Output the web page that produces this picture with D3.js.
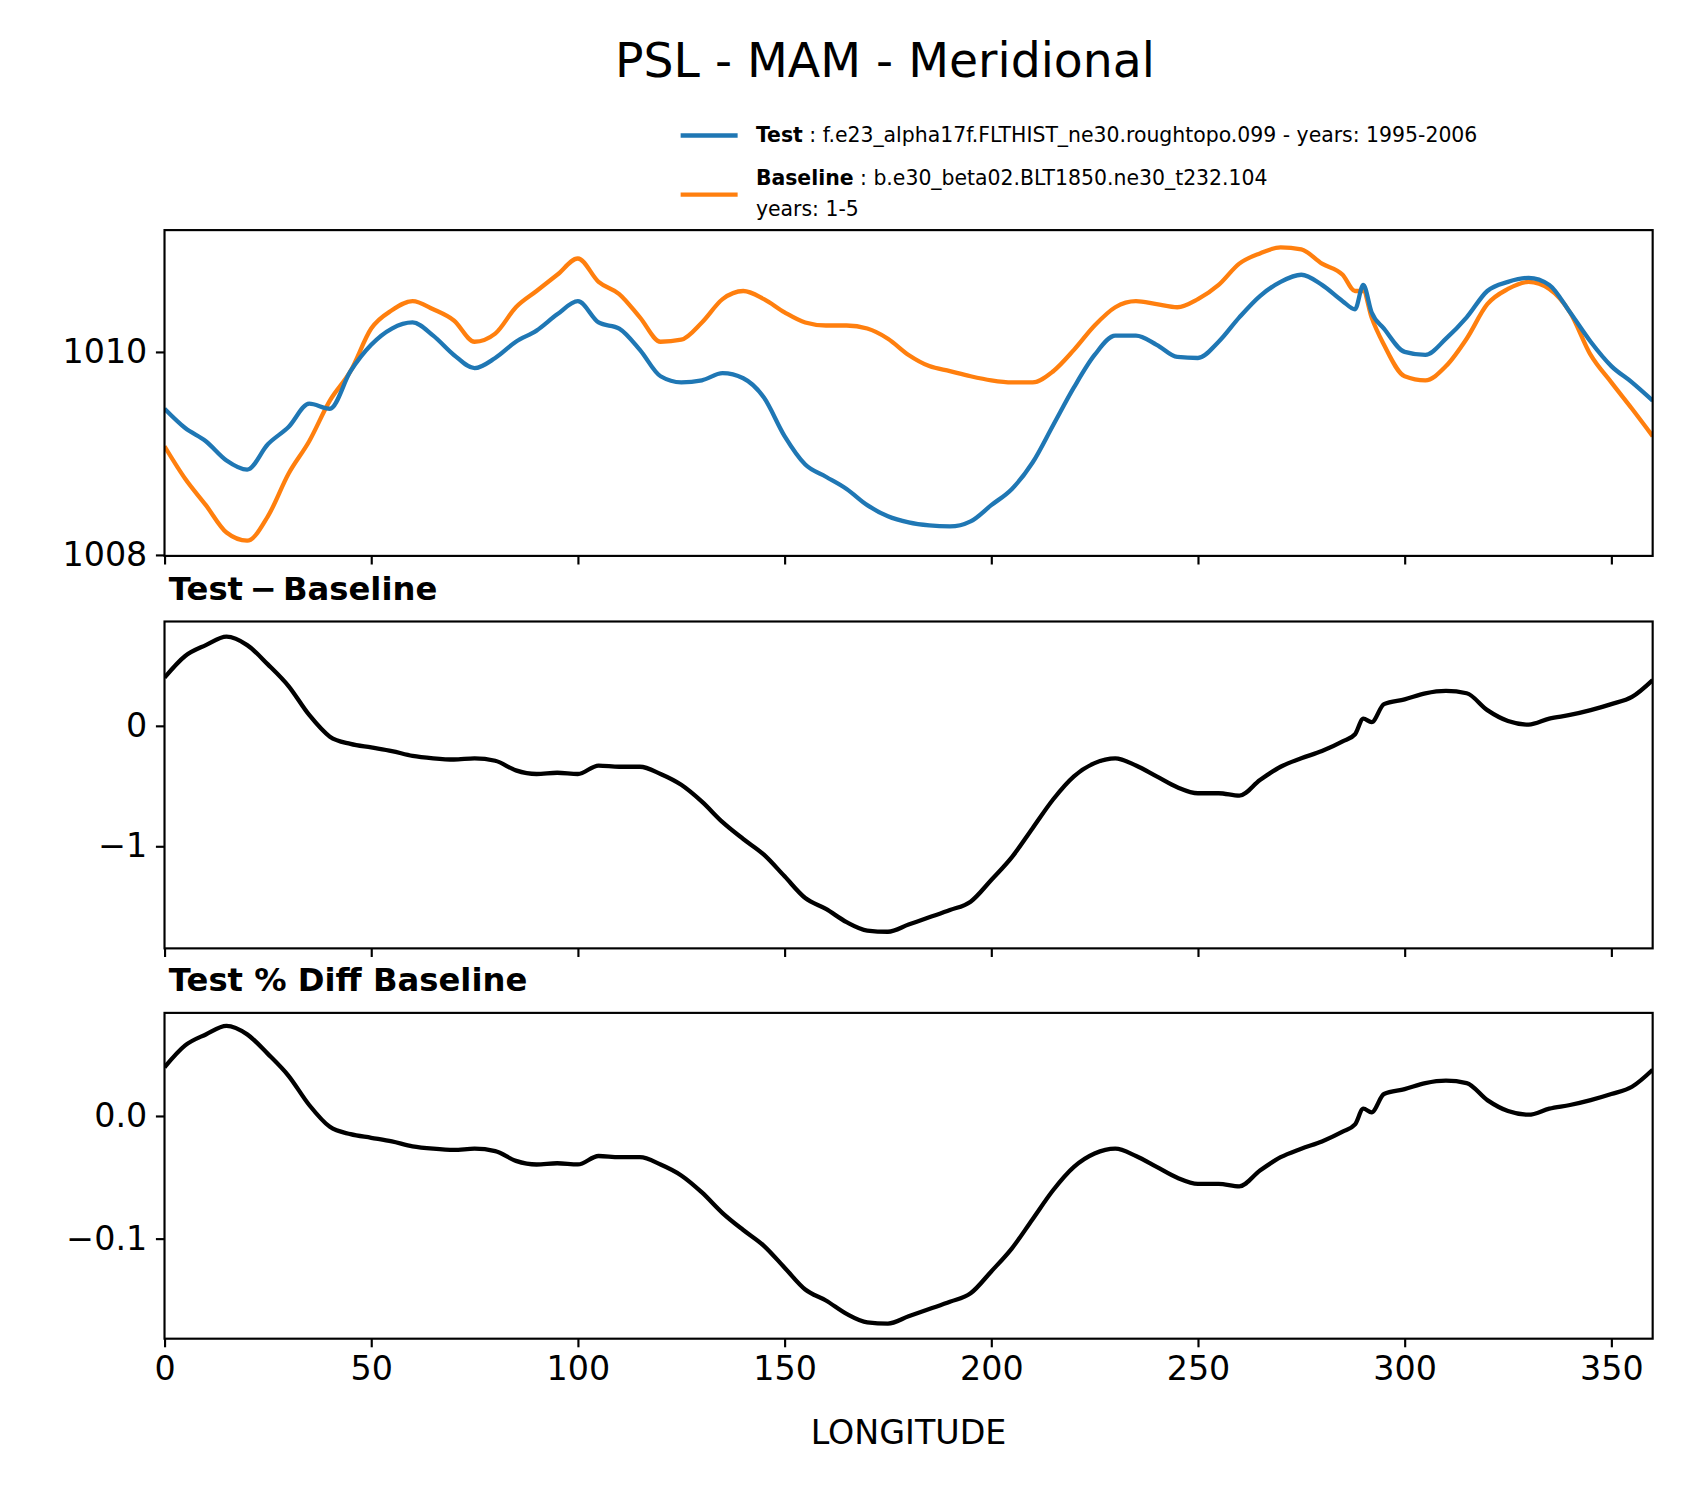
<!DOCTYPE html>
<html>
<head>
<meta charset="utf-8">
<script src="https://cdn.jsdelivr.net/npm/d3@7"></script>
<style>
  body { margin: 0; background: #fff; }
  text { font-family: "DejaVu Sans", sans-serif; }
</style>
</head>
<body>
<svg id="chart" width="1686" height="1496" viewBox="0 0 1568 1391.3"></svg>
<script>
// longitude sample points (degrees east)
const lon = [0,5,10,15,20,25,30,35,40,45,50,55,60,65,70,75,80,85,90,95,100,105,110,115,120,125,130,135,140,145,150,155,160,165,170,175,180,185,190,195,200,205,210,215,220,225,230,235,240,245,250,255,260,265,270,275,280,285,288,290,292,295,300,305,310,315,320,325,330,335,340,345,350,355,360];

// Test PSL (hPa)
const testPsl = [1009.44,1009.25,1009.12,1008.93,1008.84,1009.09,1009.26,1009.49,1009.44,1009.81,1010.07,1010.23,1010.29,1010.16,1009.97,1009.84,1009.94,1010.10,1010.21,1010.37,1010.50,1010.29,1010.23,1010.02,1009.76,1009.70,1009.72,1009.79,1009.74,1009.55,1009.17,1008.89,1008.77,1008.65,1008.49,1008.38,1008.32,1008.29,1008.28,1008.33,1008.49,1008.65,1008.91,1009.28,1009.65,1009.97,1010.16,1010.16,1010.07,1009.95,1009.94,1010.10,1010.34,1010.55,1010.69,1010.76,1010.66,1010.50,1010.42,1010.66,1010.39,1010.23,1010.00,1009.97,1010.13,1010.34,1010.60,1010.69,1010.73,1010.66,1010.39,1010.10,1009.86,1009.70,1009.52];

// Baseline PSL (hPa)
const basePsl = [1009.07,1008.75,1008.49,1008.22,1008.14,1008.38,1008.80,1009.12,1009.52,1009.81,1010.23,1010.41,1010.50,1010.42,1010.31,1010.10,1010.18,1010.44,1010.60,1010.76,1010.92,1010.69,1010.57,1010.34,1010.10,1010.12,1010.29,1010.52,1010.60,1010.52,1010.39,1010.29,1010.26,1010.26,1010.23,1010.13,1009.97,1009.86,1009.81,1009.76,1009.72,1009.70,1009.70,1009.81,1010.02,1010.26,1010.44,1010.50,1010.47,1010.44,1010.52,1010.66,1010.87,1010.97,1011.03,1011.01,1010.87,1010.76,1010.60,1010.60,1010.34,1010.07,1009.76,1009.72,1009.86,1010.13,1010.47,1010.62,1010.69,1010.62,1010.39,1009.97,1009.70,1009.44,1009.17];

// Test - Baseline (hPa)
const diffPsl = [0.40,0.58,0.67,0.74,0.67,0.51,0.33,0.09,-0.09,-0.15,-0.18,-0.21,-0.25,-0.27,-0.28,-0.27,-0.29,-0.37,-0.40,-0.39,-0.40,-0.33,-0.34,-0.34,-0.40,-0.49,-0.63,-0.80,-0.94,-1.07,-1.25,-1.43,-1.52,-1.63,-1.70,-1.71,-1.65,-1.59,-1.53,-1.46,-1.28,-1.09,-0.85,-0.61,-0.42,-0.31,-0.27,-0.33,-0.42,-0.51,-0.56,-0.56,-0.58,-0.45,-0.34,-0.27,-0.21,-0.13,-0.07,0.06,0.03,0.18,0.22,0.27,0.29,0.27,0.13,0.04,0.01,0.06,0.09,0.13,0.18,0.24,0.38];

// percent difference relative to baseline
const pctPsl = diffPsl.map((d, i) => d / basePsl[i] * 100);

const xTicks = [0, 50, 100, 150, 200, 250, 300, 350];

const svg = d3.select('#chart');
const left = 153, right = 1537;
const x = d3.scaleLinear().domain([0, 360]).range([left, right]);

svg.append('text').attr('x', 823).attr('y', 72).attr('text-anchor', 'middle')
  .style('font-size', '44px').text('PSL - MAM - Meridional');

const panels = [
  { top: 214, bottom: 517, domain: [1007.99, 1011.2], ticks: [1008, 1010], fmt: d3.format('d'),
    series: [{ v: basePsl, c: '#ff7f0e' }, { v: testPsl, c: '#1f77b4' }], xlabels: false },
  { top: 578, bottom: 882, domain: [-1.848, 0.866], ticks: [-1, 0], fmt: d => d < 0 ? '\u2212' + Math.abs(d) : d,
    series: [{ v: diffPsl, c: '#000' }], xlabels: false, title: 'Test\u2009\u2212\u2009Baseline' },
  { top: 942, bottom: 1245, domain: [-0.1816, 0.084], ticks: [-0.1, 0.0], fmt: d => d < 0 ? '\u2212' + Math.abs(d).toFixed(1) : d.toFixed(1),
    series: [{ v: pctPsl, c: '#000' }], xlabels: true, title: 'Test % Diff Baseline' }
];

panels.forEach(p => {
  const y = d3.scaleLinear().domain(p.domain).range([p.bottom, p.top]);
  const g = svg.append('g');
  g.append('clipPath').attr('id', 'clip' + p.top).append('rect')
    .attr('x', left).attr('y', p.top).attr('width', right - left).attr('height', p.bottom - p.top);

  const line = d3.line().x((d, i) => x(lon[i])).y(d => y(d)).curve(d3.curveMonotoneX);
  p.series.forEach(s => {
    g.append('path').datum(s.v).attr('d', line).attr('fill', 'none')
      .attr('stroke', s.c).attr('stroke-width', 4).attr('stroke-linejoin', 'round')
      .attr('clip-path', `url(#clip${p.top})`);
  });

  const xa = g.append('g').attr('transform', `translate(0,${p.bottom})`)
    .call(d3.axisBottom(x).tickValues(xTicks).tickSize(8).tickPadding(8)
      .tickFormat(p.xlabels ? d3.format('d') : ''));
  const ya = g.append('g').attr('transform', `translate(${left},0)`)
    .call(d3.axisLeft(y).tickValues(p.ticks).tickSize(8).tickPadding(8).tickFormat(p.fmt));
  [xa, ya].forEach(a => {
    a.select('.domain').remove();
    a.selectAll('line').attr('stroke', '#000').attr('stroke-width', 2);
    a.selectAll('text').style('font-size', '31px').attr('fill', '#000');
  });
  g.append('rect').attr('x', left).attr('y', p.top).attr('width', right - left)
    .attr('height', p.bottom - p.top).attr('fill', 'none').attr('stroke', '#000').attr('stroke-width', 2);

  if (p.title) {
    g.append('text').attr('x', left + 4).attr('y', p.top - 20)
      .style('font-size', '30px').style('font-weight', 'bold').text(p.title);
  }
});

svg.append('text').attr('x', 845).attr('y', 1343).attr('text-anchor', 'middle')
  .style('font-size', '31px').text('LONGITUDE');

// legend
const legend = [
  { c: '#1f77b4', y: 126, name: 'Test', rest: ' : f.e23_alpha17f.FLTHIST_ne30.roughtopo.099 - years: 1995-2006', ty: 132 },
  { c: '#ff7f0e', y: 181, name: 'Baseline', rest: ' : b.e30_beta02.BLT1850.ne30_t232.104', ty: 172, extra: 'years: 1-5' }
];
legend.forEach(l => {
  svg.append('line').attr('x1', 633).attr('x2', 686).attr('y1', l.y).attr('y2', l.y)
    .attr('stroke', l.c).attr('stroke-width', 4);
  const t = svg.append('text').attr('x', 703).attr('y', l.ty).style('font-size', '19px');
  t.append('tspan').style('font-weight', 'bold').text(l.name);
  t.append('tspan').text(l.rest);
  if (l.extra) svg.append('text').attr('x', 703).attr('y', l.ty + 29).style('font-size', '19px').text(l.extra);
});
</script>
</body>
</html>
